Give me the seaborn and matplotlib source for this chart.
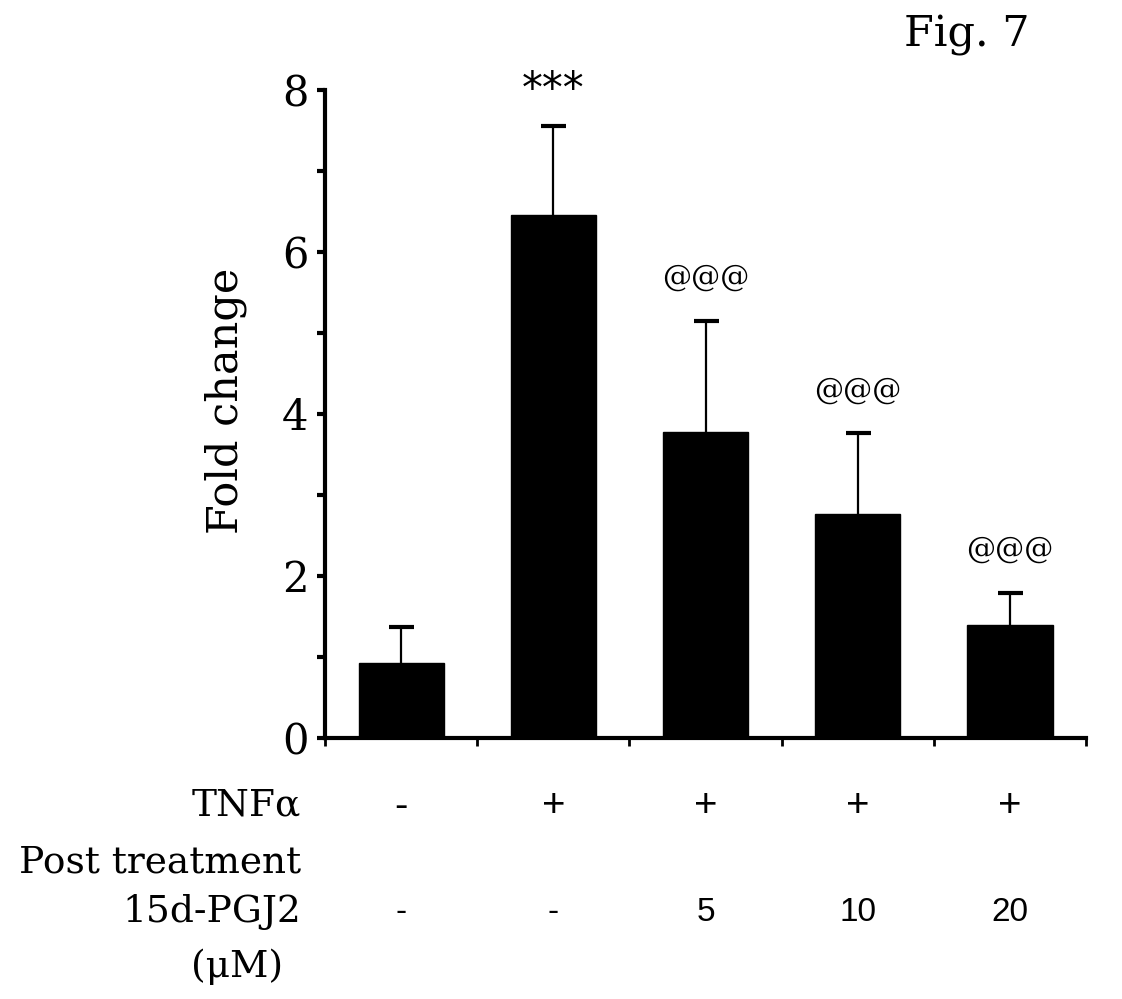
import matplotlib
matplotlib.use("Agg")
import matplotlib.pyplot as plt
import matplotlib.transforms as mtransforms
import seaborn as sns
import numpy as np

# data
groups = ["ctrl", "TNF", "TNF+5", "TNF+10", "TNF+20"]
fold_change = [0.92, 6.46, 3.78, 2.77, 1.39]
err_top = [1.37, 7.55, 5.15, 3.76, 1.79]
marks = ["", "***", "@@@", "@@@", "@@@"]
tnf_row = ["-", "+", "+", "+", "+"]
dose_row = ["-", "-", "5", "10", "20"]

sns.set_style("ticks")
plt.rcParams["font.family"] = ["DejaVu Serif"]
plt.rcParams["text.color"] = "black"
plt.rcParams["axes.labelcolor"] = "black"
plt.rcParams["xtick.color"] = "black"
plt.rcParams["ytick.color"] = "black"
plt.rcParams["axes.edgecolor"] = "black"

fig = plt.figure(figsize=(11.22, 9.99), dpi=100)
ax = fig.add_axes([0.2897, 0.2613, 0.968 - 0.2897, 0.9099 - 0.2613])

sns.barplot(x=groups, y=fold_change, color="black", edgecolor="black",
            width=0.56, errorbar=None, saturation=1, ax=ax)

xs = np.arange(len(groups))
yerr = np.array(err_top) - np.array(fold_change)
eb = ax.errorbar(xs, fold_change, yerr=[np.zeros(len(xs)), yerr], fmt="none",
                 ecolor="black", elinewidth=1.6, capsize=9, capthick=3)
# only the upper cap is shown
eb[1][0].set_visible(False)

for x, e, m in zip(xs, err_top, marks):
    if m == "***":
        ax.text(x, e + 0.45, m, ha="center", va="center", fontsize=30,
                family="DejaVu Sans", clip_on=False)
    elif m:
        ax.text(x, e + 0.53, m, ha="center", va="center", fontsize=21,
                family="DejaVu Serif", clip_on=False)

ax.set_xlim(-0.5, 4.5)
ax.set_ylim(0, 8)
ax.set_xticks(np.arange(-0.5, 5, 1.0))
ax.set_xticklabels([])
ax.set_yticks([0, 2, 4, 6, 8])
ax.set_yticks([1, 3, 5, 7], minor=True)
ax.tick_params(axis="y", which="both", direction="out", length=6, width=3,
               labelsize=30, pad=6)
ax.tick_params(axis="x", direction="out", length=6, width=2)
for s in ["left", "bottom"]:
    ax.spines[s].set_linewidth(3)
for s in ["top", "right"]:
    ax.spines[s].set_visible(False)

ax.set_xlabel("")
ax.set_ylabel("Fold change", fontsize=31)
ax.yaxis.set_label_coords(-0.103, 0.52)

# condition rows under the axis
trans = mtransforms.blended_transform_factory(ax.transData, fig.transFigure)
for x, t, d in zip(xs, tnf_row, dose_row):
    ax.text(x, 0.193, t, transform=trans, ha="center", va="center",
            fontsize=29, family="Liberation Sans")
    ax.text(x, 0.087, d, transform=trans, ha="center", va="center",
            fontsize=24, family="Liberation Sans")

fig.text(0.268, 0.193, "TNFα", ha="right", va="center", fontsize=27)
fig.text(0.268, 0.137, "Post treatment", ha="right", va="center", fontsize=27)
fig.text(0.268, 0.087, "15d-PGJ2", ha="right", va="center", fontsize=27)
fig.text(0.211, 0.032, "(μM)", ha="center", va="center", fontsize=27)
fig.text(0.862, 0.965, "Fig. 7", ha="center", va="center", fontsize=31)

fig.savefig("out.png", dpi=100)
